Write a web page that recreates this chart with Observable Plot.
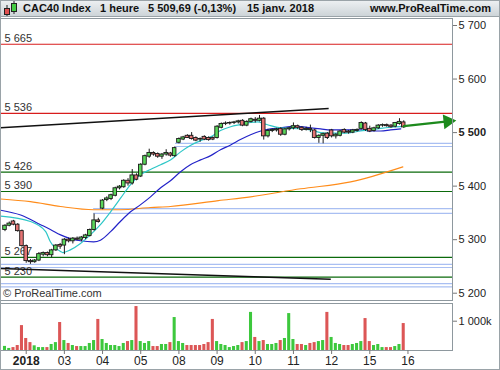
<!DOCTYPE html>
<html><head><meta charset="utf-8">
<script src="https://cdn.jsdelivr.net/npm/d3@7"></script>
<script src="https://cdn.jsdelivr.net/npm/@observablehq/plot@0.6"></script>
<style>
body{margin:0;background:#fff;}
#wrap{position:relative;width:500px;height:370px;overflow:hidden;font-family:"Liberation Sans",Arial,sans-serif;background:#fff;}
#hdr{position:absolute;left:0;top:0;width:500px;height:17px;background:linear-gradient(#eef1f3,#cdd4d8);border-bottom:1px solid #9aa3a8;box-sizing:border-box;font-weight:bold;font-size:11px;color:#111;}
#hdr span{position:absolute;top:2px;white-space:nowrap;}
#price{position:absolute;left:0;top:17px;}
#vol{position:absolute;left:0;top:303px;}
#copy{position:absolute;left:3px;top:287px;font-size:11px;color:#333;}
#border{position:absolute;left:0;top:0;width:500px;height:370px;box-sizing:border-box;border:1px solid #9aa3a8;pointer-events:none;}
</style></head><body>
<div id="wrap">
  <div id="price"></div>
  <div id="vol"></div>
  <div id="copy">© ProRealTime.com</div>
  <div id="hdr">
    <svg width="18" height="17" style="position:absolute;left:2px;top:0">
      <line x1="5" y1="5" x2="5" y2="16" stroke="#222"/><rect x="2.5" y="8.5" width="5" height="6" fill="#e05050" stroke="#222"/>
      <line x1="12" y1="1" x2="12" y2="14" stroke="#222"/><rect x="9.5" y="3.5" width="5" height="8" fill="#44cc44" stroke="#222"/>
    </svg>
    <span style="left:23px">CAC40 Index</span>
    <span style="left:100px">1 heure</span>
    <span style="left:148px">5 509,69 (-0,13%)</span>
    <span style="left:247px">15 janv. 2018</span>
    <span style="right:9px">www.ProRealTime.com</span>
  </div>
  <div id="border"></div>
</div>
<script>
// ---- data (hourly bars, index 0 = Dec 29 13:00) ----
const open  = [5318,5326,5334,5328,5316, 5288,5260,5258,5261,5272,5275,5271,5280,5290, 5289,5300,5297,5302,5300,5303,5307,5318,5336,
  5358,5374,5376,5382,5396,5398,5410,5405,5420, 5418,5440,5455,5462,5460,5455,5459,5461,5456,
  5481,5487,5494,5494,5490,5487,5492,5490,5490, 5490,5509,5516,5517,5518,5519,5522,5513,5520,
  5524,5522,5526,5493,5503,5504,5507,5496,5506, 5508,5512,5509,5505,5507,5504,5490,5494,5498,
  5504,5493,5494,5505,5502,5500,5503,5507,5517, 5507,5503,5508,5513,5514,5513,5511,5516,5519];
const high  = [5328,5333,5336,5330,5318, 5290,5263,5263,5276,5277,5277,5282,5291,5293, 5302,5303,5304,5305,5306,5310,5320,5348,5340,
  5375,5380,5385,5398,5401,5412,5414,5431,5423, 5442,5458,5469,5464,5462,5461,5468,5463,5473,
  5490,5493,5496,5500,5492,5490,5494,5492,5492, 5513,5518,5520,5520,5521,5523,5524,5522,5527,
  5528,5532,5528,5506,5507,5508,5509,5508,5510, 5518,5514,5511,5510,5514,5506,5496,5499,5500,
  5506,5498,5504,5507,5504,5506,5507,5520,5519, 5512,5510,5515,5516,5516,5515,5519,5526,5522];
const low   = [5315,5324,5326,5314,5286, 5256,5254,5256,5259,5268,5268,5266,5278,5282, 5272,5294,5292,5298,5296,5300,5305,5316,5331,
  5356,5371,5373,5380,5393,5396,5400,5402,5410, 5416,5438,5452,5456,5452,5450,5456,5454,5454,
  5479,5485,5489,5486,5483,5482,5485,5484,5485, 5488,5507,5513,5514,5515,5516,5511,5511,5518,
  5518,5520,5486,5490,5500,5501,5493,5494,5503, 5505,5506,5502,5503,5500,5488,5480,5479,5487,
  5490,5488,5492,5498,5497,5498,5501,5505,5502, 5500,5501,5506,5510,5510,5508,5509,5514,5508];
const close = [5326,5330,5328,5316,5288, 5260,5258,5261,5273,5275,5271,5280,5289,5287, 5300,5297,5302,5300,5304,5308,5318,5336,5333,
  5373,5377,5383,5396,5399,5410,5405,5420,5412, 5440,5456,5462,5459,5455,5459,5462,5457,5471,
  5488,5491,5490,5488,5485,5488,5487,5486,5487, 5511,5516,5517,5518,5519,5521,5513,5520,5525,
  5522,5526,5493,5503,5505,5506,5496,5506,5508, 5512,5509,5505,5507,5505,5490,5494,5497,5490,
  5493,5496,5502,5500,5500,5504,5505,5518,5505, 5502,5508,5513,5514,5512,5510,5518,5520,5509.69];
const volume = [140,70,100,170,850, 410,270,160,100,100,100,205,270,955, 340,240,170,135,135,135,240,340,1060,
  375,240,170,170,135,240,305,340,1500, 305,240,305,135,135,205,205,270,1125,
  305,240,170,170,170,170,205,270,1060, 305,205,170,100,135,170,270,305,1300,
  445,305,340,205,205,240,340,410,1260, 375,205,205,170,240,270,305,340,1300,
  445,240,205,170,170,205,240,305,1090, 305,170,205,100,100,100,135,205,920];
const volDir = "ggrrr rrgggrggr grgrggggr ggggggrgr gggrrggrg ggrrrrrrr ggggggrgg rgrgggrgg grrgrrggr gggrrgggr rgggrrggr".replace(/ /g,"");
const dayTicks  = [5,14,23,32,41,50,59,68,77,86,95];
const dayLabels = ["2018","03","04","05","08","09","10","11","12","15","16"];
const priceTicks = [5200,5300,5400,5500,5600,5700];
const volTicks = [1000];
// moving averages: [bar index, value]
const maFast = [[-1,5344],[6,5334],[9.6,5315],[10.7,5296],[13.1,5278],[13.6,5276],[15.4,5281],[17.8,5293],[20.9,5315],[22.5,5328],
  [24.9,5352],[27.2,5377],[29.6,5403],[31.9,5421],[34.3,5431],[36.7,5440],[39,5449],[41.4,5464],[43.7,5476],[46.1,5485],[48.5,5492],
  [50.8,5504],[53.2,5511],[55.5,5515],[57.9,5519],[59.6,5520],[61,5517],[62.6,5513],[65,5509],[67.3,5508],[69.7,5507],[72,5505],
  [74.4,5500],[76.8,5499],[79.1,5499],[81.5,5500],[83.8,5503],[86.2,5505],[88.6,5508],[90.9,5510],[93.3,5511]];
const maMid = [[-1,5355],[3.7,5346],[8.4,5328],[10.7,5319],[13.1,5309],[15.4,5302],[17.8,5298],[20.9,5296],[22.5,5299],[24.9,5315],
  [27.2,5334],[29.6,5352],[31.9,5365],[34.3,5380],[36.7,5397],[39,5410],[41.4,5427],[43.7,5440],[46.1,5449],[48.5,5457],[50.8,5468],
  [53.2,5477],[55.5,5487],[57.9,5496],[60.3,5503],[62.6,5507],[65,5509],[67.3,5511],[69.7,5511],[72,5509],[74.4,5507],[76.8,5505],
  [81.5,5505],[83.8,5505],[86.2,5503],[88.6,5503],[90.9,5505],[93.3,5507]];
const maSlow = [[-1,5376],[6,5371],[13.1,5362],[20.9,5356],[27.2,5356],[34.3,5360],[39,5362],[50.3,5373],[57.9,5380],[69.7,5395],[81.5,5408],[93.8,5436]];
const redLevels = [5665,5536];
const greenLevels = [5426,5390,5267,5230];
const labelLevels = [5665,5536,5426,5390,5267,5230];
const blueLevels = [[5480,40.2],[5474,40.2],[5358,20.9],[5349,20.9],[5254,-1.06],[5248,-1.06],[5218,-1.06],[5212,-1.06]];
const trendLines = [[-1.06,5509,76.3,5545],[-1.06,5246,76.8,5226]];
const arrowLine = [[94,5512],[104.4,5521]];

const X0 = -1.06, X1 = 105.5;
const GREEN = "#5ad65a", RED = "#e57373", VGREEN = "#3dc83d", VRED = "#dc5656";
const fmt = d => d3.format(",")(d).replace(/,/g, " ");
const bars = open.map((o,i)=>({i, open:o, high:high[i], low:low[i], close:close[i], vol:volume[i], dir:volDir[i]}));
const toPts = a => a.map(([i,v])=>({i,v}));

const price = Plot.plot({
  width: 500, height: 284, marginLeft: 0, marginRight: 48, marginTop: 1, marginBottom: 1,
  style: {fontSize: "11px", fontFamily: "Liberation Sans, Arial, sans-serif", color: "#222", background: "transparent"},
  x: {domain: [X0, X1], axis: null},
  y: {domain: [5186.4, 5713.1], axis: null},
  marks: [
    Plot.ruleY(blueLevels, {y: d=>d[0], x1: d=>d[1], x2: X1, stroke: "#a9bff2", strokeWidth: 1.2}),
    Plot.ruleY(redLevels, {x1: X0, x2: X1, stroke: "#d81c1c", strokeWidth: 1.2}),
    Plot.ruleY(greenLevels, {x1: X0, x2: X1, stroke: "#0b6a0b", strokeWidth: 1.2}),
    Plot.text(labelLevels, {x: X0, y: d=>d, text: d=>fmt(d), textAnchor: "start", lineAnchor: "bottom", dx: 4, dy: -2, fill: "#333", fontSize: 11}),
    Plot.link(trendLines, {x1: d=>d[0], y1: d=>d[1], x2: d=>d[2], y2: d=>d[3], stroke: "#111", strokeWidth: 1.5}),
    Plot.line(toPts(maSlow), {x: "i", y: "v", stroke: "#ff8c1a", strokeWidth: 1.1, curve: "monotone-x"}),
    Plot.line(toPts(maMid), {x: "i", y: "v", stroke: "#2323c8", strokeWidth: 1.2, curve: "monotone-x"}),
    Plot.line(toPts(maFast), {x: "i", y: "v", stroke: "#2ec7c7", strokeWidth: 1.2, curve: "monotone-x"}),
    Plot.ruleX(bars, {x: "i", y1: "low", y2: "high", stroke: "#1a1a1a", strokeWidth: 1}),
    Plot.rect(bars, {x1: d=>d.i-0.42, x2: d=>d.i+0.42, y1: "open", y2: "close", fill: d=>d.close>=d.open?GREEN:RED, stroke: "#1a1a1a", strokeWidth: 0.9}),
    Plot.line(toPts(arrowLine), {x: "i", y: "v", stroke: "#1d8a1d", strokeWidth: 2.2}),
    Plot.dot(toPts(arrowLine).slice(1), {x: "i", y: "v", symbol: "triangle", r: 5.5, fill: "#1d8a1d", stroke: "none", rotate: 84}),
    Plot.frame({stroke: "#8e989e"}),
    Plot.axisY(priceTicks, {anchor: "right", label: null, tickFormat: fmt, tickSize: 4, tickPadding: 2, stroke: "#777", fill: "#222", fontSize: 11})
  ]
});
d3.select(price).selectAll("text").filter(function(){return this.textContent === "5 500";}).attr("font-weight", "bold");
document.getElementById("price").appendChild(price);

const vol = Plot.plot({
  width: 500, height: 67, marginLeft: 0, marginRight: 48, marginTop: 0, marginBottom: 20,
  style: {fontSize: "12px", fontFamily: "Liberation Sans, Arial, sans-serif", color: "#222", background: "transparent"},
  x: {domain: [X0, X1], axis: null},
  y: {domain: [0, 1604], axis: null},
  marks: [
    Plot.rect(bars, {x1: d=>d.i-0.36, x2: d=>d.i+0.36, y1: 0, y2: "vol", fill: d=>d.dir==="g"?VGREEN:VRED}),
    Plot.frame({stroke: "#8e989e"}),
    Plot.axisY(volTicks, {anchor: "right", label: null, tickFormat: d=>fmt(d)+"k", tickSize: 4, tickPadding: 2, stroke: "#777", fill: "#222", fontSize: 11}),
    Plot.axisX(dayTicks, {anchor: "bottom", label: null, tickFormat: d=>dayLabels[dayTicks.indexOf(d)], tickSize: 4, tickPadding: 2, stroke: "#777", fill: "#222", fontSize: 12})
  ]
});
d3.select(vol).selectAll("text").filter(function(){return this.textContent === "2018";}).attr("font-weight", "bold");
document.getElementById("vol").appendChild(vol);
</script>
</body></html>
